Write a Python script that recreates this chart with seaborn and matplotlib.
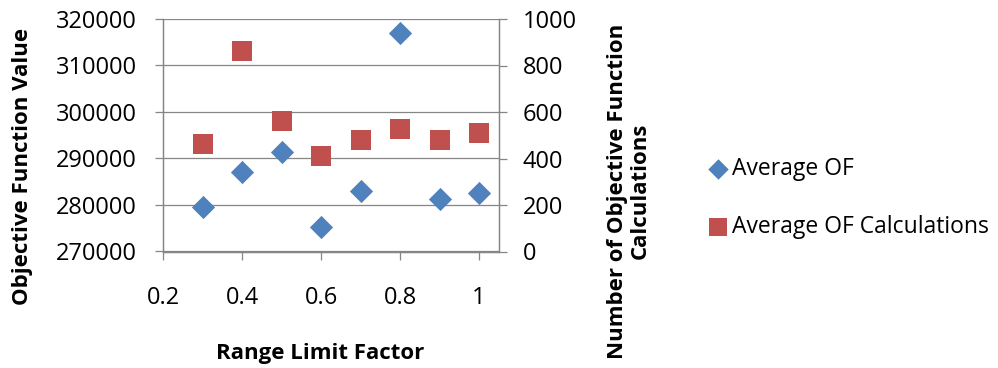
import matplotlib
matplotlib.use("Agg")
import matplotlib.pyplot as plt
import seaborn as sns
import pandas as pd

# Range limit factor and the two averaged results
range_factor = [0.3, 0.4, 0.5, 0.6, 0.7, 0.8, 0.9, 1.0]
average_of = [279500, 287000, 291500, 275300, 283100, 317050, 281200, 282500]
average_of_calcs = [461, 862, 561, 411, 480, 527, 480, 511]

left_ticks = [270000, 280000, 290000, 300000, 310000, 320000]
right_ticks = [0, 200, 400, 600, 800, 1000]
x_ticks = [0.2, 0.4, 0.6, 0.8, 1.0]
x_tick_labels = ["0.2", "0.4", "0.6", "0.8", "1"]

df = pd.DataFrame({
    "factor": range_factor,
    "avg_of": average_of,
    "avg_calcs": average_of_calcs,
})

sns.set_theme(style="white")
plt.rcParams["font.family"] = ["Open Sans", "DejaVu Sans"]
plt.rcParams["text.color"] = "black"

BLUE = "#4F81BD"
RED = "#C0504D"
AXIS_GRAY = "#868686"
W, H = 998, 368
DPI = 100

fig = plt.figure(figsize=(W / DPI, H / DPI), dpi=DPI)
ax = fig.add_axes([163 / W, 1 - 251.5 / H, (499 - 163) / W, (251.5 - 19) / H])
ax2 = ax.twinx()

sns.scatterplot(data=df, x="factor", y="avg_of", ax=ax, marker="D", s=140,
                color=BLUE, linewidth=0, label="Average OF", legend=False)
sns.scatterplot(data=df, x="factor", y="avg_calcs", ax=ax2, marker="s", s=205,
                color=RED, linewidth=0, label="Average OF Calculations", legend=False)

ax.set_xlim(0.2, 1.0506)
ax.set_ylim(270000, 320000)
ax2.set_ylim(0, 1000)
ax.set_xticks(x_ticks)
ax.set_xticklabels(x_tick_labels)
ax.set_yticks(left_ticks)
ax.set_yticklabels([str(v) for v in left_ticks])
ax2.set_yticks(right_ticks)
ax2.set_yticklabels([str(v) for v in right_ticks])
ax.set_xlabel("")
ax.set_ylabel("")
ax2.set_ylabel("")

ax.yaxis.grid(True, color=AXIS_GRAY, linewidth=0.9)
ax.set_axisbelow(True)

for a in (ax, ax2):
    a.spines["top"].set_visible(False)
    for side in ("left", "right", "bottom"):
        a.spines[side].set_color(AXIS_GRAY)
        a.spines[side].set_linewidth(0.9)

tick_len = 6
ax.tick_params(axis="y", which="major", left=True, right=False, direction="out",
               length=tick_len, width=0.9, color=AXIS_GRAY, pad=13, labelsize=17,
               labelcolor="black")
ax.tick_params(axis="x", which="major", bottom=True, direction="out",
               length=tick_len, width=0.9, color=AXIS_GRAY, pad=19, labelsize=17,
               labelcolor="black")
ax2.tick_params(axis="y", which="major", right=True, direction="out",
                length=tick_len, width=0.9, color=AXIS_GRAY, pad=11, labelsize=17,
                labelcolor="black")

# Axis titles
fig.text(23 / W, 1 - 166 / H, "Objective Function Value", rotation=90,
         ha="center", va="center", fontsize=16, fontweight="bold", color="black")
fig.text(320 / W, 1 - 353 / H, "Range Limit Factor",
         ha="center", va="center", fontsize=16, fontweight="bold", color="black")
fig.text(629 / W, 1 - 191 / H, "Number of Objective Function\nCalculations",
         rotation=90, ha="center", va="center", fontsize=16, fontweight="bold",
         multialignment="center", linespacing=1.1, color="black")

# Legend to the right of the plot
handles = ax.collections[:1] + ax2.collections[:1]
labels = ["Average OF", "Average OF Calculations"]
leg = fig.legend(handles, labels, loc="center left",
                 bbox_to_anchor=(700 / W, 1 - 198 / H), frameon=False,
                 fontsize=16.5, markerscale=0.88, handlelength=0.8,
                 handletextpad=0.2, labelspacing=1.45, borderaxespad=0)
for t in leg.get_texts():
    t.set_color("black")

fig.savefig("out.png", dpi=DPI)
